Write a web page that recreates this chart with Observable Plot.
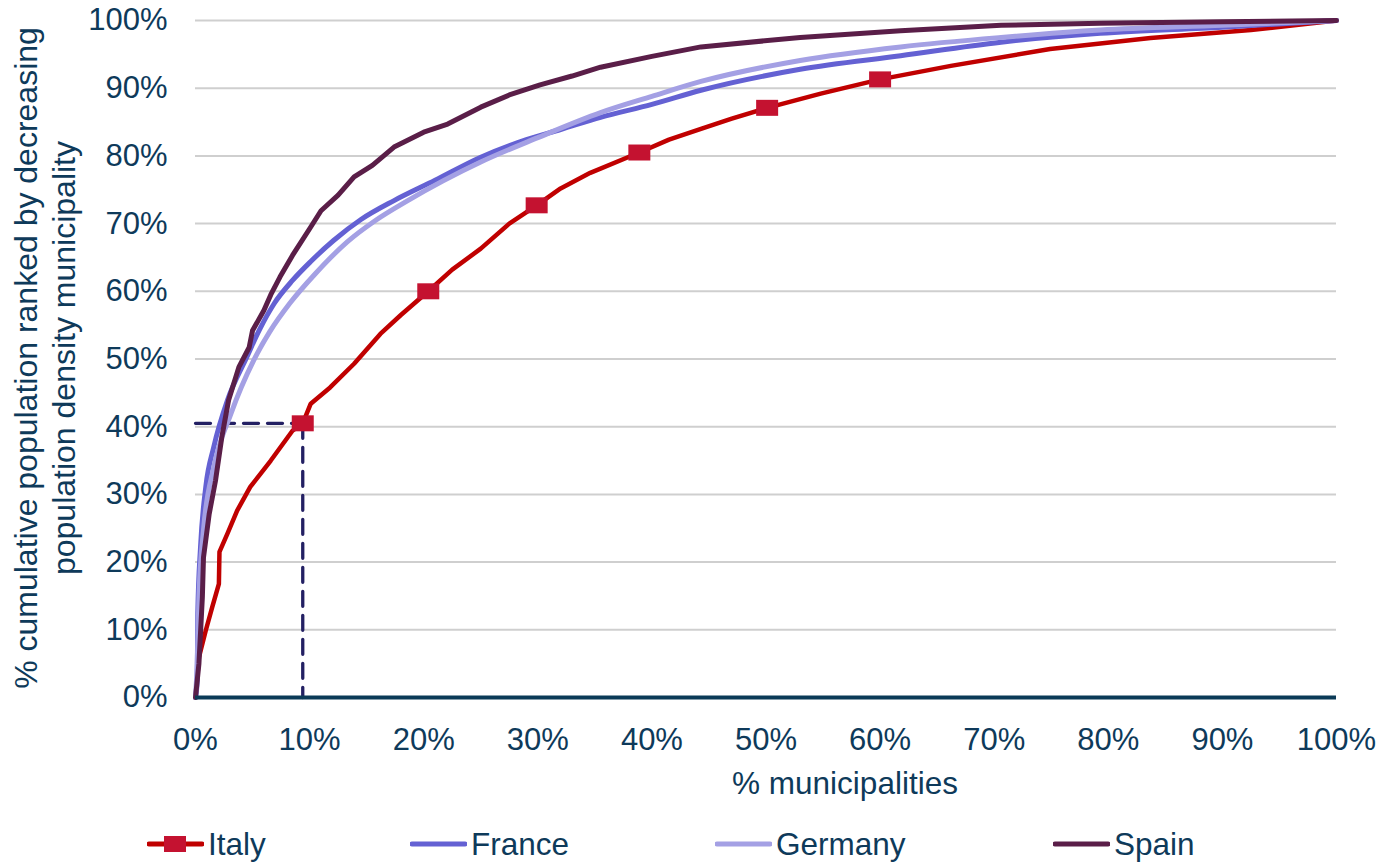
<!DOCTYPE html>
<html>
<head>
<meta charset="utf-8">
<script src="https://cdn.jsdelivr.net/npm/d3@7"></script>
<script src="https://cdn.jsdelivr.net/npm/@observablehq/plot@0.6"></script>
<style>
  body { margin: 0; background: #fff; font-family: "Liberation Sans", Arial, sans-serif; }
  #legend { position: relative; width: 1379px; height: 55px; color: #0e3a5a; font-size: 31.5px; }
  .item { position: absolute; top: 16px; display: flex; align-items: center; height: 36px; }
  .item svg { margin-right: 4px; }
</style>
</head>
<body>
<div id="chart"></div>
<div id="legend"></div>
<script>
// ---- data (percent units) ----
const xTicks = [0, 10, 20, 30, 40, 50, 60, 70, 80, 90, 100];
const yTicks = [0, 10, 20, 30, 40, 50, 60, 70, 80, 90, 100];

const italyX = [0, 0.3, 0.9, 1.46, 2.05, 2.1, 2.8, 3.65, 4.8, 6.6, 8.5, 9.4, 10.1, 11.8, 13.9, 16.2, 18.0, 20.4, 22.5, 25.0, 27.5, 29.9, 32.0, 34.6, 38.9, 41.5, 44.3, 47.0, 50.1, 54.8, 60.0, 66.2, 74.9, 83.7, 92.5, 100];
const italyY = [0, 5.9, 9.9, 13.3, 16.8, 21.5, 24.2, 27.6, 31.1, 35.0, 39.4, 40.5, 43.4, 45.8, 49.3, 53.7, 56.5, 60.0, 63.2, 66.3, 70.0, 72.7, 75.2, 77.5, 80.5, 82.4, 84.0, 85.5, 87.1, 89.2, 91.3, 93.3, 95.8, 97.4, 98.6, 100];
const italyMarkerX = [9.4, 20.4, 29.9, 38.9, 50.1, 60.0];
const italyMarkerY = [40.5, 60.0, 72.7, 80.5, 87.1, 91.3];

const franceX = [0, 0.15, 0.2, 0.44, 0.9, 1.6, 2.8, 4.5, 5.6, 6.9, 8.5, 10.1, 12.1, 14.5, 17.4, 21.0, 25.0, 29.0, 32.0, 35.5, 40.0, 44.3, 53.0, 61.8, 70.6, 79.3, 90.0, 100];
const franceY = [0, 2.5, 12.4, 22.2, 31.1, 37.0, 43.9, 50.3, 54.3, 58.2, 61.6, 64.4, 67.5, 70.6, 73.4, 76.4, 79.8, 82.4, 83.9, 85.7, 87.6, 89.7, 92.8, 94.8, 96.8, 98.1, 99.0, 100];

const germanyX = [0, 0.15, 0.3, 0.7, 1.6, 3.1, 5.1, 6.5, 8.3, 10.5, 13.3, 15.8, 18.6, 25.0, 30.0, 35.5, 40.0, 44.3, 53.0, 61.8, 70.6, 79.3, 90.0, 100];
const germanyY = [0, 5.0, 14.8, 24.7, 34.0, 41.9, 49.8, 54.0, 58.3, 62.6, 67.3, 70.5, 73.4, 79.1, 82.7, 86.4, 88.8, 91.0, 94.1, 96.1, 97.5, 98.6, 99.3, 100];

const spainX = [0, 0.3, 0.6, 0.7, 1.2, 1.75, 2.3, 2.9, 3.8, 4.7, 5.0, 6.0, 6.6, 7.4, 8.5, 10.1, 11.0, 12.5, 13.9, 15.5, 17.4, 20.0, 22.1, 25.0, 27.5, 30.2, 33.0, 35.5, 40.0, 44.3, 53.0, 61.8, 70.6, 79.3, 90.0, 100];
const spainY = [0, 5.0, 14.8, 20.7, 27.1, 32.0, 38.4, 43.9, 48.8, 51.7, 54.2, 57.2, 59.5, 62.1, 65.3, 69.5, 71.9, 74.2, 76.9, 78.6, 81.3, 83.5, 84.7, 87.2, 89.0, 90.5, 91.8, 93.1, 94.7, 96.1, 97.5, 98.5, 99.3, 99.6, 99.8, 100];

const refPoint = { x: 9.4, y: 40.5 };

const seriesNames = ["Italy", "France", "Germany", "Spain"];
const seriesColors = ["#c00000", "#6461d3", "#a4a0e4", "#5a1e48"];
const markerColor = "#c41230";
const textColor = "#0e3a5a";

// ---- build tables ----
const toRows = (xs, ys) => xs.map((x, i) => ({ x, y: ys[i] }));
const italy = toRows(italyX, italyY);
const france = toRows(franceX, franceY);
const germany = toRows(germanyX, germanyY);
const spain = toRows(spainX, spainY);
const italyMarkers = toRows(italyMarkerX, italyMarkerY);

const rectSymbol = { draw(ctx) { ctx.rect(-11, -8, 22, 16); } };

const chart = Plot.plot({
  width: 1379,
  height: 810,
  marginLeft: 195,
  marginRight: 43,
  marginTop: 20,
  marginBottom: 113,
  style: { fontFamily: "'Liberation Sans', Arial, sans-serif", fontSize: "31px", color: textColor, background: "white", overflow: "visible" },
  x: { domain: [0, 100] },
  y: { domain: [0, 100] },
  marks: [
    Plot.gridY(yTicks.filter(d => d > 0), { stroke: "#cfcfcf", strokeOpacity: 1, strokeWidth: 2 }),
    Plot.axisY(yTicks, { tickSize: 0, tickPadding: 28, tickFormat: d => d + "%", label: null, fill: textColor }),
    Plot.axisX(xTicks, { tickSize: 0, tickPadding: 30, tickFormat: d => d + "%", label: null, fill: textColor }),
    Plot.line([{ x: 0, y: refPoint.y }, refPoint], { x: "x", y: "y", stroke: "#232063", strokeWidth: 3.3, strokeDasharray: "15,9" }),
    Plot.line([refPoint, { x: refPoint.x, y: 0 }], { x: "x", y: "y", stroke: "#232063", strokeWidth: 3.3, strokeDasharray: "15,9" }),
    Plot.line(italy, { x: "x", y: "y", stroke: seriesColors[0], strokeWidth: 4.5, strokeLinejoin: "round" }),
    Plot.dot(italyMarkers, { x: "x", y: "y", symbol: rectSymbol, fill: markerColor, stroke: "none" }),
    Plot.line(france, { x: "x", y: "y", stroke: seriesColors[1], strokeWidth: 5, strokeLinejoin: "round", curve: "monotone-x" }),
    Plot.line(germany, { x: "x", y: "y", stroke: seriesColors[2], strokeWidth: 5, strokeLinejoin: "round", curve: "monotone-x" }),
    Plot.line(spain, { x: "x", y: "y", stroke: seriesColors[3], strokeWidth: 5, strokeLinejoin: "round" }),
    Plot.ruleY([0], { stroke: "#0b3a57", strokeWidth: 4 })
  ]
});

const svg = d3.select(chart);
const titleLines = ["% cumulative population ranked by decreasing", "population density municipality"];
[26, 64].forEach((cx, i) => {
  svg.append("text")
    .attr("transform", `translate(${cx},358) rotate(-90)`)
    .attr("text-anchor", "middle")
    .attr("dominant-baseline", "central")
    .attr("fill", textColor)
    .attr("font-size", 32)
    .text(titleLines[i]);
});
svg.append("text")
  .attr("x", 845).attr("y", 794)
  .attr("text-anchor", "middle")
  .attr("fill", textColor)
  .attr("font-size", 31.5)
  .text("% municipalities");

document.getElementById("chart").appendChild(chart);

// ---- legend ----
const legendLeft = [147, 410, 715, 1053];
const legend = d3.select("#legend");
seriesNames.forEach((name, i) => {
  const item = legend.append("div").attr("class", "item").style("left", legendLeft[i] + "px");
  const s = item.append("svg").attr("width", 57).attr("height", 24);
  s.append("line").attr("x1", 2).attr("x2", 55).attr("y1", 12).attr("y2", 12)
    .attr("stroke", seriesColors[i]).attr("stroke-width", 5).attr("stroke-linecap", "round");
  if (i === 0) s.append("rect").attr("x", 17).attr("y", 4).attr("width", 22).attr("height", 16).attr("fill", markerColor);
  item.append("span").text(name);
});
</script>
</body>
</html>
